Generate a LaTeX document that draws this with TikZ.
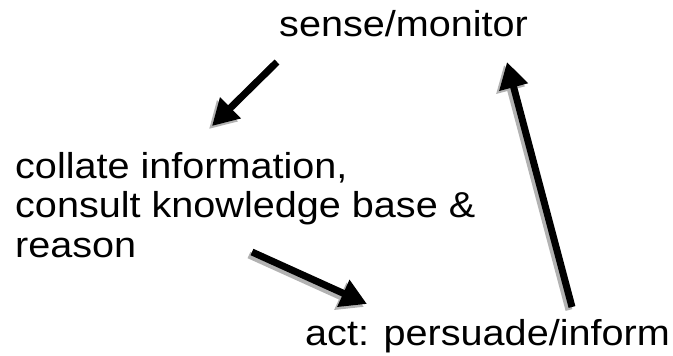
\documentclass[tikz,border=0pt]{standalone}
\usepackage{fontspec}
\setmainfont[FakeStretch=1.1]{Liberation Sans}
\usetikzlibrary{arrows.meta}
\tikzset{
  lbl/.style={inner sep=0pt, font=\fontsize{36}{39.5}\selectfont, text=black},
  bigarrow/.style={line width=7pt, -{Triangle[width=28pt,length=26pt]}, black},
  shadowarrow/.style={line width=7pt, -{Triangle[width=28pt,length=26pt]}, black!30}
}
\begin{document}
\begin{tikzpicture}[x=1pt,y=-1pt]
\useasboundingbox (0,0) rectangle (673,356);
\node[lbl, anchor=base west] (sense) at (279,37) {sense/monitor};
\node[lbl, anchor=north west, align=left] (collate) at (15,152) {collate information,\\consult knowledge base \&\\reason};
\node[lbl, anchor=base west] (act) at (305,345) {act: persuade/inform};
\coordinate (a1s) at (277,62);
\coordinate (a1e) at (212,126);
\coordinate (a2s) at (252,252);
\coordinate (a2e) at (367,304);
\coordinate (a3s) at (572,307);
\coordinate (a3e) at (507,62);
\draw[shadowarrow] ([shift={(-3,3)}]a1s) -- ([shift={(-3,3)}]a1e);
\draw[shadowarrow] ([shift={(-3,3)}]a2s) -- ([shift={(-3,3)}]a2e);
\draw[shadowarrow] ([shift={(-3,3)}]a3s) -- ([shift={(-3,3)}]a3e);
\draw[bigarrow] (a1s) -- (a1e);
\draw[bigarrow] (a2s) -- (a2e);
\draw[bigarrow] (a3s) -- (a3e);
\end{tikzpicture}
\end{document}
